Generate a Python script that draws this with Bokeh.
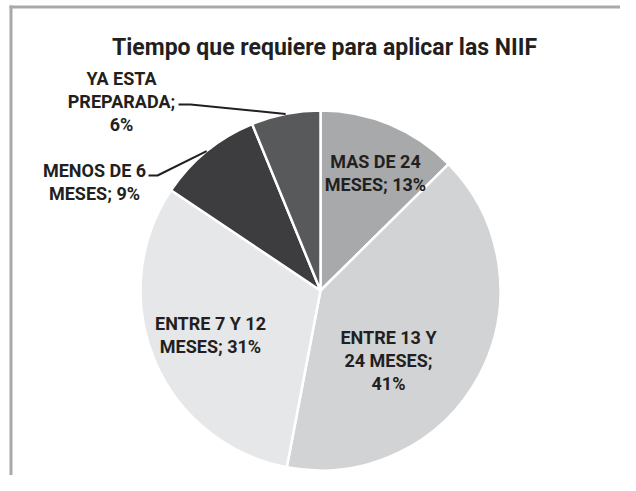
import numpy as np
from bokeh.plotting import figure
from bokeh.models import Range1d, ColumnDataSource
from bokeh.core.properties import value
from bokeh.embed import file_html
from bokeh.resources import INLINE

# ---- data ----
categories = ["MAS DE 24 MESES", "ENTRE 13 Y 24 MESES", "ENTRE 7 Y 12 MESES",
              "MENOS DE 6 MESES", "YA ESTA PREPARADA"]
shares = [12.6, 40.4, 31.4, 9.4, 6.2]          # slice sizes
label_lines = [["MAS DE 24", "MESES; 13%"],
               ["ENTRE 13 Y", "24 MESES;", "41%"],
               ["ENTRE 7 Y 12", "MESES; 31%"],
               ["MENOS DE 6", "MESES; 9%"],
               ["YA ESTA", "PREPARADA;", "6%"]]
title = "Tiempo que requiere para aplicar las NIIF"

# ---- style / layout ----
colors = ["#a7a9ab", "#d1d3d4", "#e6e7e8", "#3d3d3f", "#58595b"]
FONT = "Roboto"
TXT = "#231f20"
PW, PH = 620, 475

def Y(yi):  # picture row -> data y
    return PH - yi

cx, cy_img, R = 320, 290, 180
cy = Y(cy_img)

# label anchor (x, first-line y in picture px) and line step
label_pos = [(375, 161), (388, 337), (210, 323), (94, 170), (121, 78)]
LINE_STEP = 23
# leader elbows for outside labels (index -> (start, elbow))
leaders = {4: ((178, 104), (190, 104)), 3: ((148, 175), (157, 175))}

p = figure(width=PW, height=PH, x_range=Range1d(0, PW), y_range=Range1d(0, PH),
           x_axis_type=None, y_axis_type=None, toolbar_location=None,
           output_backend="svg", min_border=0)
p.outline_line_color = None
p.grid.visible = False
p.background_fill_color = "white"
p.border_fill_color = "white"

# frame (top and left edges visible)
p.quad(left=[9, 9], right=[PW, 12], bottom=[Y(8), Y(PH)], top=[Y(5), Y(5)],
       fill_color="#a7a9ac", line_color=None)

frac = np.array(shares) / np.sum(shares)
cum = np.concatenate([[0], np.cumsum(frac)])
start = np.pi / 2 - 2 * np.pi * cum[:-1]
end = np.pi / 2 - 2 * np.pi * cum[1:]
src = ColumnDataSource(dict(start=start, end=end, color=colors, cat=categories))
p.wedge(x=cx, y=cy, radius=R, start_angle="start", end_angle="end", direction="clock",
        fill_color="color", line_color="white", line_width=2.5, source=src)

# leader lines to the middle of small slices
mid = (start + end) / 2
xs, ys = [], []
for i, ((sx, sy), (ex, ey)) in leaders.items():
    px = cx + R * np.cos(mid[i])
    py = cy + R * np.sin(mid[i])
    xs.append([sx, ex, px])
    ys.append([Y(sy), Y(ey), py])
p.multi_line(xs=xs, ys=ys, line_color=TXT, line_width=2)

# labels
lx, ly, lt = [], [], []
for (ax, ay), lines in zip(label_pos, label_lines):
    for k, t in enumerate(lines):
        lx.append(ax)
        ly.append(Y(ay + k * LINE_STEP))
        lt.append(t)
p.text(x=lx, y=ly, text=lt, text_align="center", text_baseline="middle",
       text_font=value(FONT), text_font_style="bold", text_font_size="18px",
       text_color=TXT)

# title
p.text(x=[324], y=[Y(47)], text=[title], text_align="center", text_baseline="alphabetic",
       text_font=value(FONT), text_font_style="bold", text_font_size="23px",
       text_color=TXT)

open("out.html", "w").write(file_html(p, INLINE))
